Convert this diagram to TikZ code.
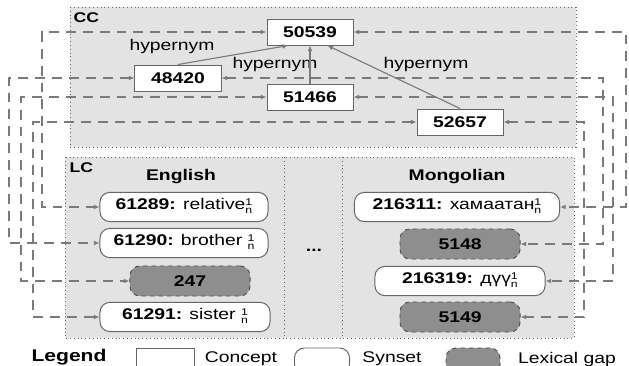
\documentclass[tikz,border=0pt]{standalone}
\usepackage{fontspec}
\setmainfont{Liberation Sans}[FakeStretch=1.25]
\usetikzlibrary{arrows.meta,calc}
\definecolor{areagray}{HTML}{E3E3E3}
\definecolor{linegray}{HTML}{7A7A7A}
\definecolor{edgegray}{HTML}{666666}
\definecolor{gapgray}{HTML}{8E8E8E}
\newcommand{\sensetag}{{\scriptsize\begin{tabular}{@{}l@{}}1\\[-2pt]n\end{tabular}}}

\begin{document}
\begin{tikzpicture}[
        x=0.025cm, y=-0.025cm,
        font=\fontsize{11}{13}\selectfont,
        area/.style={draw=edgegray, dotted, line width=0.7pt, fill=areagray},
        concept/.style={rectangle, draw=edgegray, fill=white, line width=0.7pt, minimum width=2.15cm, minimum height=0.65cm, font=\fontsize{11}{13}\selectfont\bfseries},
        synset/.style={rectangle, draw=edgegray, fill=white, line width=0.7pt, rounded corners=7pt, minimum height=0.73cm, inner sep=2pt},
        gap/.style={rectangle, draw=edgegray!80!black, dashed, fill=gapgray, line width=0.7pt, rounded corners=7pt, minimum width=3cm, minimum height=0.75cm, font=\fontsize{11}{13}\selectfont\bfseries},
        title/.style={font=\fontsize{11}{13}\selectfont\bfseries},
        link/.style={{Latex[length=4pt,width=3.5pt]}-{Latex[length=4pt,width=3.5pt]}, draw=linegray, line width=0.9pt, dash pattern=on 7pt off 5pt},
        hyper/.style={-{Latex[length=4pt,width=3.5pt]}, draw=linegray, line width=0.8pt}
    ]
        \clip (0,0) rectangle (629,366);

        % CC and LC areas
        \draw[area] (70,7) rectangle (576,147);
        \draw[area] (65,157) rectangle (574,338);
        \draw[edgegray, dotted, line width=0.7pt] (284,157) -- (284,338);
        \draw[edgegray, dotted, line width=0.7pt] (342,157) -- (342,338);
        \node[title, font=\fontsize{10}{12}\selectfont\bfseries, anchor=west, inner sep=1pt] (cc) at (72,18) {CC};
        \node[title, font=\fontsize{10}{12}\selectfont\bfseries, anchor=west, inner sep=1pt] (lc) at (68,168) {LC};
        \node[title] (english) at (181,177) {English};
        \node[title] (mongolian) at (457,177) {Mongolian};
        \node[title] (dots) at (314,250) {...};

        % concepts
        \node[concept] (c50539) at (310,32) {50539};
        \node[concept] (c48420) at (178,78) {48420};
        \node[concept] (c51466) at (310,97) {51466};
        \node[concept] (c52657) at (460,122) {52657};

        % synsets and gaps
        \node[synset, minimum width=4.2cm] (s61289) at (184,207) {\textbf{61289:} relative\sensetag};
        \node[synset, minimum width=4.2cm] (s61290) at (184,243) {\textbf{61290:} brother \sensetag};
        \node[gap] (g247) at (190,281) {247};
        \node[synset, minimum width=4.25cm] (s61291) at (185,317) {\textbf{61291:} sister \sensetag};
        \node[synset, minimum width=5.125cm] (s216311) at (457,207) {\textbf{216311:} хамаатан\sensetag};
        \node[gap] (g5148) at (460,244) {5148};
        \node[synset, minimum width=4.25cm] (s216319) at (460,281) {\textbf{216319:} дүү\sensetag};
        \node[gap] (g5149) at (460,317) {5149};

        \node (hyp1) at (172,47) {hypernym};
        \node (hyp2) at (275,65) {hypernym};
        \node (hyp3) at (426,65) {hypernym};

        % routing columns
        \coordinate (west1) at (9,0);
        \coordinate (west2) at (21,0);
        \coordinate (west3) at (33,0);
        \coordinate (west4) at (42,0);
        \coordinate (east1) at (584,0);
        \coordinate (east2) at (603,0);
        \coordinate (east3) at (613,0);
        \coordinate (east4) at (626,0);

        \draw[link] (c50539.west) -- (west4 |- c50539.west) |- (s61289.west);
        \draw[link] (c48420.west) -- (west1 |- c48420.west) |- (s61290.west);
        \draw[link] (c51466.west) -- (west2 |- c51466.west) |- (g247.west);
        \draw[link] (c52657.west) -- (west3 |- c52657.west) |- (s61291.west);
        \draw[link] (c50539.east) -- (east4 |- c50539.east) |- (s216311.east);
        \draw[link] (c48420.east) -- (east2 |- c48420.east) |- (g5148.east);
        \draw[link] (c51466.east) -- (east3 |- c51466.east) |- (s216319.east);
        \draw[link] (c52657.east) -- (east1 |- c52657.east) |- (g5149.east);

        \draw[hyper] (c48420.north) -- ($(c50539.south west)!0.25!(c50539.south east)$);
        \draw[hyper] (c51466.north) -- (c50539.south);
        \draw[hyper] (c52657.north) -- ($(c50539.south west)!0.7!(c50539.south east)$);

        % legend
        \node[font=\fontsize{12}{14}\selectfont\bfseries] (legend) at (69,357) {Legend};
        \node[concept, minimum width=1.45cm] (keyconcept) at (165,361) {};
        \node (keyconcepttext) at (241,359) {Concept};
        \node[synset, minimum width=1.375cm, minimum height=0.65cm] (keysynset) at (322,361) {};
        \node (keysynsettext) at (392,359) {Synset};
        \node[gap, minimum width=1.35cm, minimum height=0.65cm] (keygap) at (473,361) {};
        \node (keygaptext) at (567,359) {Lexical gap};
    \end{tikzpicture}
\end{document}
